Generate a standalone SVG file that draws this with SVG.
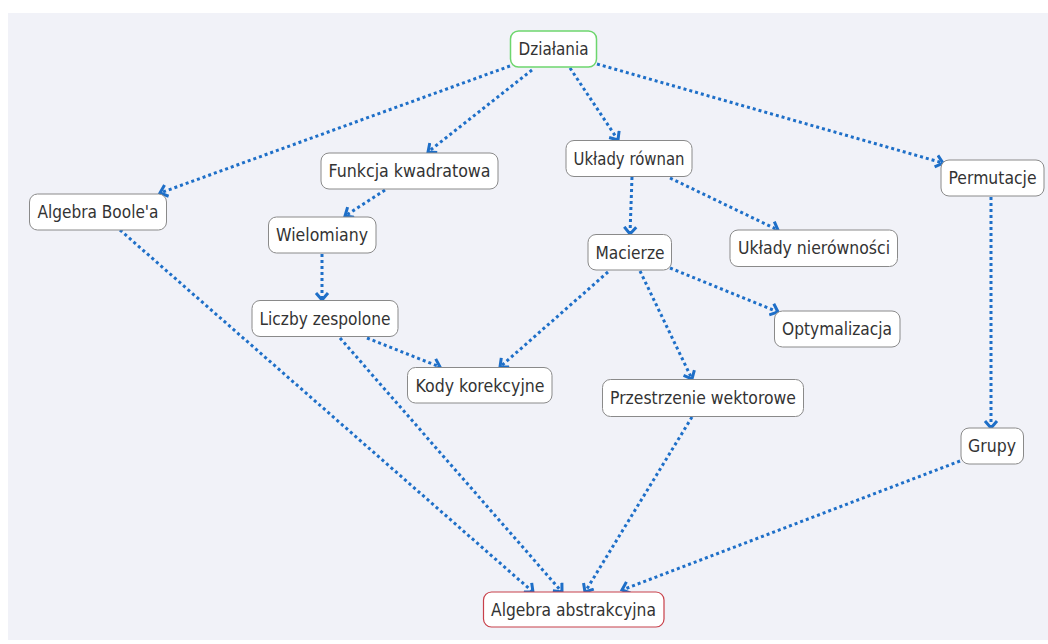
<svg xmlns="http://www.w3.org/2000/svg" width="1048" height="644" viewBox="0 0 1048 644">
<style>
.bg{fill:#f1f2f8}
.n rect{fill:#fff;stroke:#8a8a8a;stroke-width:1}
.n text{font-family:"DejaVu Sans",Verdana,sans-serif;font-size:17.5px;fill:#333;text-anchor:middle;dominant-baseline:central}
#n-dzialania rect{stroke:#6dd66d;stroke-width:1.5}
#n-abstr rect{stroke:#c8404a;stroke-width:1.2}
.e path{fill:none;stroke:#1e6fc8;stroke-width:3;stroke-dasharray:3 3;marker-end:url(#ah)}
</style>
<defs>
<marker id="ah" markerUnits="userSpaceOnUse" markerWidth="16" markerHeight="16" viewBox="-8 -8 16 16" refX="0" refY="0" orient="auto">
<path d="M-7,-6 L0,0 L-7,6" fill="none" stroke="#1e6fc8" stroke-width="3" stroke-linejoin="miter"/>
</marker>
</defs>
<rect class="bg" x="8" y="13" width="1040" height="627"/>
<g id="connectors" class="e">
<path d="M510,66 L160,193"/>
<path d="M532,70 L428,152"/>
<path d="M570,68 L618,140"/>
<path d="M597,64 L943,163"/>
<path d="M385,190 L345,216"/>
<path d="M322,254 L322,300"/>
<path d="M632,177 L630,234"/>
<path d="M670,178 L778,230"/>
<path d="M670,268 L778,312"/>
<path d="M640,271 L692,379"/>
<path d="M608,272 L500,367"/>
<path d="M367,338 L440,367"/>
<path d="M340,338 L562,592"/>
<path d="M120,230 L533,592"/>
<path d="M692,417 L585,592"/>
<path d="M991,197 L991,428"/>
<path d="M960,461 L622,590"/>
</g>
<g id="n-dzialania" class="n"><rect x="510.5" y="31" width="86" height="36" rx="8"/><text x="553.5" y="49" textLength="70" lengthAdjust="spacingAndGlyphs">Działania</text></g>
<g id="n-boole" class="n"><rect x="29.5" y="194" width="137" height="36" rx="8"/><text x="98" y="212" textLength="121" lengthAdjust="spacingAndGlyphs">Algebra Boole'a</text></g>
<g id="n-funkcja" class="n"><rect x="321" y="153" width="177" height="36" rx="8"/><text x="409.5" y="171" textLength="162" lengthAdjust="spacingAndGlyphs">Funkcja kwadratowa</text></g>
<g id="n-uklady" class="n"><rect x="566" y="140.5" width="126" height="36" rx="8"/><text x="629" y="158.5" textLength="111" lengthAdjust="spacingAndGlyphs">Układy równan</text></g>
<g id="n-permutacje" class="n"><rect x="941" y="160" width="103" height="36" rx="8"/><text x="992.5" y="178" textLength="88" lengthAdjust="spacingAndGlyphs">Permutacje</text></g>
<g id="n-wielomiany" class="n"><rect x="268.5" y="217" width="107.5" height="36" rx="8"/><text x="322" y="235" textLength="92" lengthAdjust="spacingAndGlyphs">Wielomiany</text></g>
<g id="n-macierze" class="n"><rect x="588" y="234.5" width="83.5" height="35.5" rx="8"/><text x="630" y="252.5" textLength="69" lengthAdjust="spacingAndGlyphs">Macierze</text></g>
<g id="n-nierownosci" class="n"><rect x="730" y="230" width="167.5" height="36.5" rx="8"/><text x="814" y="248" textLength="152" lengthAdjust="spacingAndGlyphs">Układy nierówności</text></g>
<g id="n-liczby" class="n"><rect x="252" y="300.5" width="146" height="36" rx="8"/><text x="325" y="318.5" textLength="131" lengthAdjust="spacingAndGlyphs">Liczby zespolone</text></g>
<g id="n-optymalizacja" class="n"><rect x="774.5" y="311" width="125.5" height="36" rx="8"/><text x="837" y="329" textLength="110" lengthAdjust="spacingAndGlyphs">Optymalizacja</text></g>
<g id="n-kody" class="n"><rect x="407.5" y="367.5" width="144.5" height="35.5" rx="8"/><text x="480" y="385.5" textLength="129" lengthAdjust="spacingAndGlyphs">Kody korekcyjne</text></g>
<g id="n-przestrzenie" class="n"><rect x="602.5" y="379.5" width="201" height="37" rx="8"/><text x="703" y="398" textLength="186" lengthAdjust="spacingAndGlyphs">Przestrzenie wektorowe</text></g>
<g id="n-grupy" class="n"><rect x="961" y="428" width="62.5" height="36" rx="8"/><text x="992" y="446" textLength="48" lengthAdjust="spacingAndGlyphs">Grupy</text></g>
<g id="n-abstr" class="n"><rect x="483.5" y="592" width="180.5" height="35" rx="8"/><text x="573.5" y="609.5" textLength="165" lengthAdjust="spacingAndGlyphs">Algebra abstrakcyjna</text></g>
</svg>
